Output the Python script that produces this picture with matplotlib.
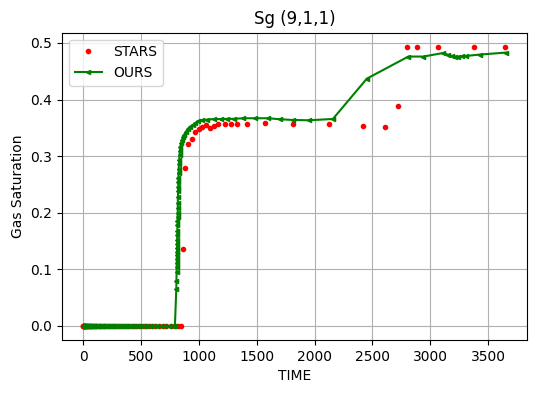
import matplotlib
matplotlib.use("Agg")
import matplotlib.pyplot as plt

# STARS results (time, gas saturation)
stars_t = [0, 1, 2, 4, 6, 8, 10, 13, 16, 20, 25, 30, 35, 40, 46, 52, 58, 65, 72, 80,
           88, 96, 105, 114, 124, 134, 145, 156, 168, 180, 193, 206, 220, 234, 248,
           263, 278, 294, 310, 327, 344, 362, 380, 399, 418, 438, 458, 479, 500, 522,
           545, 570, 596, 624, 654, 686, 720, 756, 790, 820, 848,
           862, 877, 903, 940, 963, 1000, 1029, 1058, 1095, 1129, 1164, 1224, 1276,
           1328, 1414, 1569, 1810, 2121, 2422, 2612, 2724, 2802, 2888, 3069, 3377, 3647]
stars_sg = [0.0] * 61 + [
    0.1355, 0.279, 0.322, 0.331, 0.342, 0.348, 0.3516, 0.3546, 0.350, 0.353, 0.356,
    0.3576, 0.356, 0.3576, 0.3576, 0.3594, 0.3576, 0.356, 0.354, 0.352, 0.389, 0.492,
    0.4936, 0.4936, 0.4936, 0.4936]

# our simulator results
ours_t = [0, 1, 2, 3, 5, 7, 9, 11, 14, 17, 20, 24, 28, 32, 36, 41, 46, 51, 57, 63, 69,
          76, 83, 90, 98, 106, 114, 123, 132, 141, 151, 161, 171, 182, 193, 204, 216,
          228, 240, 253, 266, 279, 293, 307, 321, 336, 351, 366, 382, 398, 414, 431,
          448, 466, 484, 502, 525, 550, 578, 608, 640, 672, 705, 738, 765, 785, 793,
          805, 806, 807, 808, 808, 809, 810, 810, 811, 812, 812, 813, 814, 815, 815,
          816, 817, 818, 818, 819, 820, 821, 822, 823, 824, 826, 828, 830, 833, 836,
          840, 846, 853, 862, 873, 887, 903, 922, 945, 968, 991, 1030, 1072, 1130,
          1187, 1245, 1302, 1383, 1489, 1595, 1704, 1810, 1948, 2158, 2452, 2810,
          2940, 3112, 3155, 3184, 3213, 3241, 3271, 3305, 3428, 3653]
ours_sg = [0.0] * 67 + [
    0.066, 0.080, 0.095, 0.105, 0.112, 0.118, 0.125, 0.130, 0.138, 0.145, 0.152,
    0.160, 0.168, 0.178, 0.185, 0.192, 0.200, 0.208, 0.218, 0.228, 0.238, 0.246,
    0.255, 0.262, 0.270, 0.278, 0.286, 0.294, 0.302, 0.310, 0.317, 0.323, 0.328,
    0.333, 0.338, 0.343, 0.348, 0.352, 0.355, 0.358, 0.362, 0.3635, 0.3647, 0.3655,
    0.3657, 0.366, 0.366, 0.367, 0.367, 0.367, 0.3652, 0.364, 0.3634, 0.3657,
    0.437, 0.476, 0.476, 0.4823, 0.479, 0.477, 0.476, 0.4755, 0.4765, 0.477,
    0.4795, 0.483]

fig = plt.figure(figsize=(5.36, 3.93), dpi=100)
ax = fig.add_axes([0.1157, 0.135, 0.8675, 0.782])

ax.plot(stars_t, stars_sg, 'r.', label='STARS')
ax.plot(ours_t, ours_sg, 'g-<', markersize=3, label='OURS')

ax.set_title('Sg (9,1,1)')
ax.set_xlabel('TIME')
ax.set_ylabel('Gas Saturation')
ax.grid(True)
ax.legend(loc='upper left')

fig.savefig('out.png')
